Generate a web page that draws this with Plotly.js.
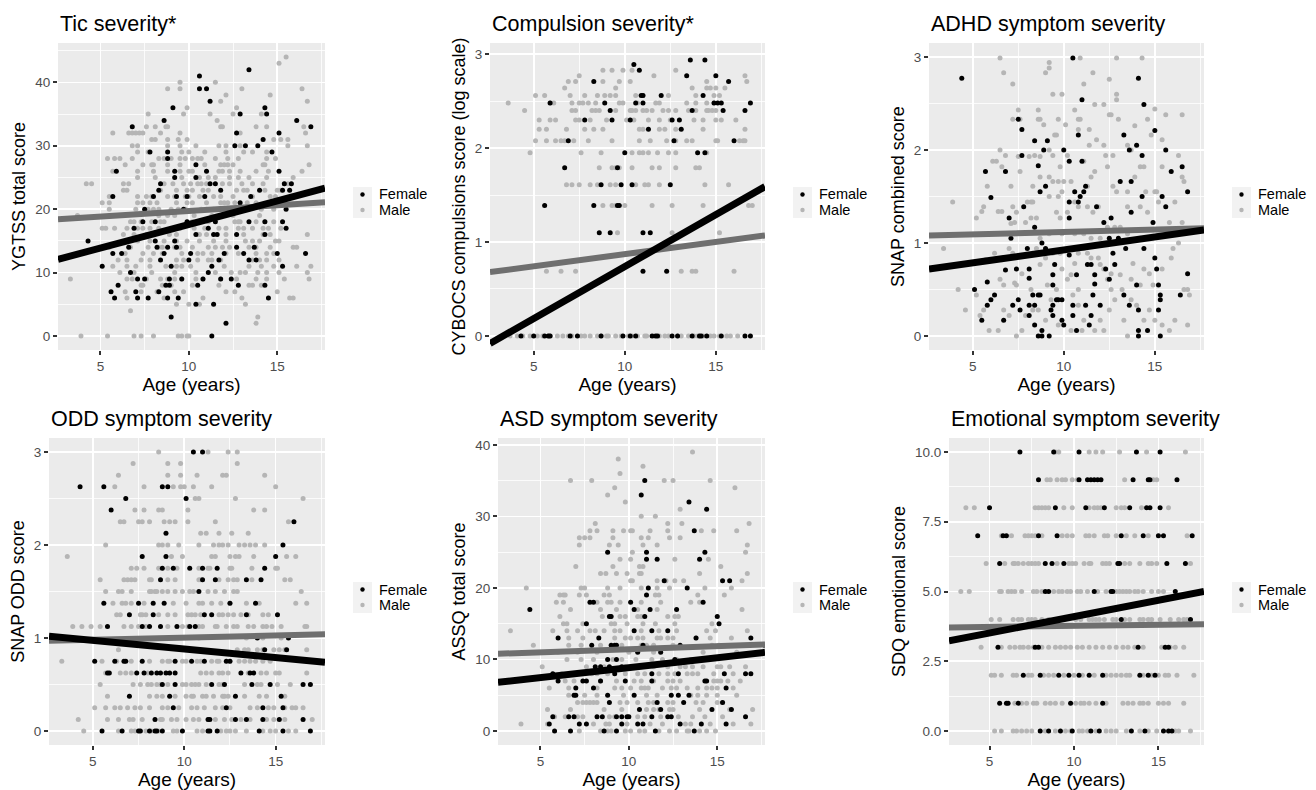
<!DOCTYPE html>
<html><head><meta charset="utf-8">
<script src="https://cdn.plot.ly/plotly-3.0.1.min.js"></script>
<style>html,body{margin:0;padding:0;background:#fff}#chart{width:1316px;height:790px}</style>
</head><body><div id="chart"></div>
<script>
// ---------------- DATA ----------------
// Rows: [score, [ages...]]; Pairs: [age, score]
const groups = ["Female", "Male"];
const panelTitles = ["Tic severity*", "Compulsion severity*", "ADHD symptom severity",
  "ODD symptom severity", "ASD symptom severity", "Emotional symptom severity"];
const yTitles = ["YGTSS total score", "CYBOCS compulsions score (log scale)", "SNAP combined score",
  "SNAP ODD score", "ASSQ total score", "SDQ emotional score"];
const xTitle = "Age (years)";
const xTicks = [5, 10, 15];

// fitted lines: score at age 2.6 and at age 17.7
const fitAges = [2.6, 17.7];
const ticFitFemale = [12.1, 23.3], ticFitMale = [18.4, 21.1];
const compFitFemale = [-0.08, 1.59], compFitMale = [0.68, 1.07];
const adhdFitFemale = [0.72, 1.14], adhdFitMale = [1.08, 1.16];
const oddFitFemale = [1.02, 0.74], oddFitMale = [0.97, 1.04];
const asdFitFemale = [6.8, 11.0], asdFitMale = [10.8, 12.1];
const emoFitFemale = [3.23, 5.0], emoFitMale = [3.71, 3.83];

// ---- Tic severity ----
const ticFemale = [[4.3,15],[5.1,11],[5.6,7],[5.8,6],[5.7,13],[5.6,19],[5.7,22],[5.9,26],[6.0,8],[6.2,13],[6.6,14],[6.9,17],[6.8,33],[6.7,10],[7.0,7],[7.1,9],[7.1,6],[7.5,9],[7.5,20],[7.4,18],[7.7,6],[7.8,29],[8.0,22],[8.1,18],[8.1,15],[8.3,23],[8.4,24],[8.2,14],[8.3,7],[8.4,12],[8.6,13],[8.6,34],[8.7,8],[8.8,6],[8.8,29],[8.8,28],[8.8,14],[8.9,9],[8.9,8],[9.0,11],[9.0,3],[9.1,36],[9.2,26],[9.2,25],[9.3,22],[9.2,15],[9.3,14],[9.4,6],[9.6,9],[9.7,20],[9.9,22],[9.9,18],[10.0,12],[10.1,13],[10.4,27],[10.4,16],[10.4,5],[10.4,25],[10.5,8],[10.6,41],[10.6,39],[10.8,9],[10.9,22],[11.0,39],[11.0,26],[11.1,10],[11.1,17],[11.2,24],[11.2,37],[11.3,11],[11.3,0],[11.4,5],[11.4,16],[11.5,18],[11.5,24],[11.6,16],[11.7,12],[11.8,9],[11.8,23],[12.0,13],[12.1,2],[12.4,9],[12.6,30],[12.7,32],[12.7,16],[12.7,14],[12.8,8],[12.9,35],[12.9,21],[13.1,13],[13.2,30],[13.4,12],[13.4,42],[13.5,22],[13.4,18],[13.7,14],[13.8,12],[13.9,30],[14.0,23],[14.2,31],[14.3,16],[14.3,18],[14.3,8],[14.3,36],[14.4,35],[14.5,6],[14.7,29],[15.0,13],[15.1,32],[15.1,26],[15.3,18],[15.3,11],[15.3,23],[15.4,24],[15.5,20],[15.5,17],[15.7,23],[15.8,24],[16.1,34],[16.6,13],[16.9,33]];
const ticMale = [
[44,[15.5]],[43,[15.1]],[40,[9.5,11.5]],[39,[8.8,9.5,13.0,16.4]],[38,[12.1,14.6]],[37,[11.8,16.7]],[36,[9.9,12.7]],
[35,[7.7,9.7,11.2,12.5,14.1]],[34,[11.6]],[33,[7.6,8.1,8.7,8.8,11.8,11.9,13.8,14.4,16.5]],
[32,[5.7,6.6,6.8,7.0,7.2,7.4,8.4,9.5,12.9,16.6]],[31,[7.9,8.1,8.8,9.4,9.9,14.8,15.2,15.6]],
[30,[6.8,7.1,8.8,9.5,10.4,11.7,12.1,12.9,15.6,16.7]],[29,[7.1,7.7,9.6,10.0,10.9,12.1,13.1,13.6,14.4]],
[28,[5.4,5.8,6.1,6.8,8.3,8.6,9.0,9.5,9.8,10.2,10.5,10.7,11.5,12.2,12.8,14.4,14.9]],
[27,[6.4,7.4,7.9,8.0,8.8,9.5,10.9,11.8,12.0,12.2,12.5,14.2,14.3,16.8]],
[26,[5.7,7.1,8.0,8.8,9.5,10.0,10.2,11.7,11.9,12.3,12.9,13.8,14.5,16.4]],
[25,[7.1,8.1,9.6,10.6,11.1,11.5,12.3,12.8,13.4,14.4,15.9]],
[24,[4.2,4.5,6.3,6.6,8.6,9.1,9.7,10.1,10.5,10.7,11.0,11.9,12.3,13.0,13.6,14.2,15.4,15.6]],
[23,[6.3,6.5,8.4,9.3,9.9,10.2,10.8,11.1,12.7,13.1,13.3,14.3,15.0,15.2]],
[22,[5.5,7.1,7.6,7.9,8.8,9.2,9.8,10.0,10.6,11.4,11.8,12.5,13.6,14.6,14.9]],
[21,[5.1,5.5,7.1,7.4,7.8,8.2,9.3,9.9,10.2,11.0,11.8,12.0,12.2,12.6,13.3,13.8,14.6,15.3]],
[20,[5.5,7.0,7.7,8.0,8.3,9.0,9.4,9.8,10.7,11.0,11.4,12.2,13.1,13.4,14.1,14.8]],
[19,[3.7,5.5,8.3,8.8,9.2,10.3,11.3,12.5,14.0]],
[18,[6.7,6.9,7.3,7.9,8.4,8.6,9.9,10.2,10.7,11.1,12.6,12.8,12.9,13.8,14.3,14.8]],
[17,[5.1,5.3,5.8,6.5,7.1,7.4,7.8,8.3,9.5,10.3,10.9,11.7,12.1,12.8,13.1,13.6,14.2,14.5,15.2]],
[16,[6.3,6.9,7.6,8.0,8.9,9.3,10.5,10.6,11.0,12.1,13.1,14.2,14.6,16.7]],
[15,[7.1,7.8,8.6,9.3,9.9,10.6,11.4,12.1,13.2,13.6,14.0,14.9,15.1]],
[14,[5.5,6.7,7.7,8.3,8.5,9.2,9.5,10.2,11.1,11.5,11.9,12.3,13.4,13.8,14.6,15.9,16.1]],
[13,[6.4,7.4,8.0,8.5,9.6,10.5,10.8,11.3,12.1,12.8,13.8,14.4,14.8]],
[12,[6.0,6.5,7.3,7.8,9.3,9.7,10.5,11.1,11.3,11.8,13.6,14.0,14.4,15.1]],
[11,[5.7,6.5,7.0,7.8,8.7,9.3,9.6,10.1,12.0,13.4,14.1,14.8,16.1,16.9]],
[10,[6.1,6.9,7.9,9.2,10.4,11.5,12.4,12.9,13.2,13.9,14.4,15.1,16.7]],
[9,[3.3,6.5,6.8,7.6,8.4,8.8,9.2,9.6,10.4,10.8,11.8,12.7,13.8,14.4,15.4,16.8]],
[8,[7.3,7.4,8.5,9.0,10.2,11.7,13.4,13.6,14.1]],[7,[6.4,7.3,8.2,9.2,9.7,12.1,12.6,15.0]],
[6,[6.5,8.6,10.8,13.0,15.7,15.9]],[5,[9.3,10.0,10.6,13.2]],[4,[6.7]],[3,[13.9]],[2,[13.8]],
[0,[3.9,5.4,6.9,7.3,8.0,9.4,9.6,9.9,10.0]]];

// ---- Compulsion severity (log scale values) ----
const compFemale = [
[2.94,[13.6,14.4]],[2.89,[10.5]],[2.83,[10.8]],[2.77,[13.4,15.0]],[2.71,[8.3,15.7]],
[2.56,[10.9,11.0,12.0,14.3]],[2.48,[5.9,8.9,10.6,11.0,14.9,15.1,15.3,16.9]],[2.40,[9.2,13.7,15.4,16.6]],
[2.30,[7.8,9.3,10.3,12.6,13.0]],[2.20,[11.3,13.1]],[2.08,[6.9,12.7,16.0]],[1.95,[10.0,14.0,14.4]],
[1.79,[6.7,9.6]],[1.61,[8.7,9.8,10.4,12.5]],[1.39,[5.6,8.3,9.6,9.7]],[1.10,[8.6,9.2,11.0,11.4]],
[0.69,[11.0,12.3]],
[0,[4.3,5.0,5.6,5.8,5.9,7.0,7.4,8.7,9.9,10.3,10.6,11.5,11.7,11.8,12.6,12.9,13.7,14.1,14.2,14.5,15.3,16.6,16.9]]];
const compMale = [
[2.83,[8.8,9.3,9.9,10.4,12.8]],[2.77,[7.5,11.6,16.6]],[2.71,[6.9,7.3,8.8,9.7,10.3,14.5,16.7]],
[2.64,[6.7,9.5,13.7,14.5,14.7,15.0,15.5]],
[2.56,[5.1,5.6,7.0,7.8,8.5,8.9,9.2,9.5,10.6,11.0,12.4,13.9,14.9,15.2]],
[2.48,[3.6,5.9,6.1,7.1,7.5,7.7,8.0,8.4,9.7,9.9,10.7,11.7,11.9,13.4,13.9,14.5,14.9]],
[2.40,[4.5,7.1,7.3,8.2,8.4,8.6,9.5,10.3,10.4,10.6,11.0,11.2,11.5,12.1,12.4,12.8,13.5,13.9,14.5,14.6,14.8,15.0]],
[2.30,[5.3,5.9,6.2,7.3,7.5,8.1,9.0,10.1,10.5,11.3,11.9,12.5,13.8,14.3,15.0,15.3,16.1]],
[2.20,[5.3,5.7,6.8,7.8,8.3,8.8,10.8,11.0,11.9,12.2,12.8,14.3,16.6]],
[2.08,[5.1,5.7,6.2,6.5,6.7,7.2,8.0,9.3,10.8,11.4,12.3,12.8,13.4,13.7,15.0,15.1,16.3,16.5,16.6]],
[1.95,[4.8,7.6,8.7,10.4,10.8,11.0,11.3,11.8,12.4,12.8,14.5]],
[1.79,[8.6,9.3,9.5,9.7,10.4,11.5,11.9,12.8,13.9,14.1]],
[1.61,[6.8,7.1,7.5,8.1,8.5,9.2,9.5,10.6,11.1,11.3,11.9,14.4,15.7]],
[1.39,[8.8,9.3,9.5,10.0,11.5,12.6,14.3,16.8,17.0]],[1.10,[9.6,12.6,15.2]],
[0.69,[5.7,6.5,7.3,13.1,13.7,13.9,16.0]],
[0,[3.7,4.1,4.4,4.8,5.2,5.5,5.8,5.9,6.3,6.6,6.9,7.1,7.6,7.8,8.1,8.5,8.7,9.0,9.1,9.5,9.8,10.2,10.4,10.7,11.1,11.2,11.6,11.9,12.2,12.4,12.9,13.1,13.5,13.8,14.0,14.3,14.7,14.9,15.2,15.6,15.8,16.2]]];

// ---- ADHD symptom severity ----
const adhdFemale = [[4.4,2.77],[5.1,0.50],[5.5,0.17],[5.7,1.77],[5.8,0.58],[5.8,0.33],[6.0,1.49],[6.0,0.39],[6.2,0.44],[6.7,0.17],[6.8,1.77],[7.0,1.27],[6.8,0.71],[7.1,1.05],[7.2,0.33],[7.5,2.33],[7.5,0.39],[7.4,0.72],[7.6,0.28],[7.7,2.22],[7.7,1.94],[7.8,1.39],[8.0,0.94],[8.1,0.62],[8.1,0.72],[8.1,0.33],[8.1,0.22],[8.3,0.44],[8.4,2.10],[8.4,0.33],[8.4,0.12],[8.4,1.17],[8.6,0.44],[8.6,1.83],[8.6,0],[8.7,1.55],[8.7,0.44],[8.8,1.0],[8.8,0.06],[8.8,0],[8.9,2.0],[9.0,0.94],[9.0,1.61],[9.1,2.10],[9.2,0],[9.3,0.28],[9.4,0.66],[9.4,0.55],[9.4,0.22],[9.4,0.33],[9.5,0.77],[9.6,0.39],[9.7,0.39],[9.9,0.39],[9.9,0.17],[10.0,2.0],[10.0,0.12],[10.3,1.88],[10.3,1.44],[10.3,1.27],[10.3,0.87],[10.5,2.99],[10.5,0.33],[10.5,0.22],[10.7,0.06],[10.7,0.66],[10.6,1.55],[10.8,1.44],[10.8,2.16],[10.9,1.50],[11.0,1.88],[11.0,2.54],[11.1,1.55],[11.2,1.61],[11.2,0.33],[11.3,0.77],[11.4,0.12],[11.5,0.22],[11.5,0.77],[11.6,0.44],[11.7,0.56],[11.7,0.66],[11.8,1.39],[12.0,0.33],[12.2,1.22],[12.3,0.72],[12.5,0.61],[12.5,1.05],[12.6,1.27],[12.7,0.89],[12.8,0.77],[13.0,1.05],[13.1,1.66],[13.3,0.44],[13.3,2.16],[13.4,0.94],[13.6,0.33],[13.6,2.0],[13.7,1.66],[13.7,1.33],[14.0,2.05],[14.0,0.55],[14.1,0.28],[14.1,2.77],[14.1,0.06],[14.1,0],[14.3,1.50],[14.3,1.94],[14.4,2.49],[14.4,0.94],[14.6,0.06],[14.9,1.22],[15.0,2.21],[15.0,0.84],[15.1,0.72],[15.2,0.28],[15.2,0.55],[15.3,0],[15.3,0.44],[15.3,0.39],[15.4,1.50],[15.6,1.39],[15.6,2.0],[15.9,1.77],[16.4,0.44],[16.5,1.82],[16.8,1.55],[16.8,0.67]];
const adhdMale = [[6.5,2.99],[6.7,2.83],[7.2,2.71],[9.2,2.94],[9.2,2.88],[9.0,2.83],[9.4,2.60],[9.9,2.60],[10.9,2.99],[11.1,2.71],[11.6,2.83],[12.5,2.76],[12.9,2.99],[12.9,2.54],[12.9,2.60],[14.3,2.99],[11.7,2.49],[12.2,2.49],[15.0,2.44],[15.6,2.38],[16.5,2.38],[7.5,2.43],[7.2,2.33],[7.6,2.33],[8.6,2.43],[8.6,2.33],[8.7,2.33],[8.9,2.27],[9.7,2.33],[10.1,2.27],[10.6,2.43],[10.8,2.33],[10.9,2.33],[10.8,2.22],[11.4,2.22],[12.5,2.38],[12.6,2.38],[13.0,2.33],[13.9,2.26],[14.6,2.33],[14.8,2.16],[15.4,2.11],[9.5,2.16],[9.6,2.16],
[6.5,2.0],[6.1,1.88],[6.3,1.88],[6.6,1.82],[6.8,1.94],[7.6,1.77],[7.5,1.93],[8.1,1.93],[8.4,1.94],[8.7,1.93],[9.2,2.0],[9.4,1.94],[9.8,1.82],[10.2,1.94],[11.1,1.88],[11.4,2.05],[11.8,2.11],[12.2,2.05],[12.3,1.94],[12.7,1.94],[12.4,1.82],[13.5,2.05],[13.7,2.0],[14.2,1.82],[14.4,1.82],[15.4,1.82],[16.3,1.94],[9.2,1.71],[9.4,1.66],[9.7,1.66],[10.0,1.66],[9.9,1.55],[10.4,1.66],[8.3,1.61],[8.7,1.71],[8.0,1.44],[8.2,1.44],[8.3,1.44],[9.2,1.50],[9.7,1.50],[10.6,1.44],[11.3,1.61],[11.5,1.71],[11.7,1.77],[12.7,1.61],[12.9,1.55],[13.5,1.55],[13.9,1.71],[14.5,1.55],[15.0,1.55],[15.1,1.55],[15.2,1.44],[16.5,1.71],[16.6,1.66],[16.1,1.44],[5.8,1.61],[7.1,1.61],[3.9,1.44],
[5.5,1.34],[5.6,1.39],[5.2,1.27],[6.4,1.34],[6.6,1.34],[7.2,1.39],[7.4,1.33],[7.1,1.21],[7.3,1.22],[7.9,1.22],[8.2,1.27],[8.5,1.27],[9.6,1.33],[9.8,1.27],[10.2,1.33],[10.8,1.39],[11.3,1.39],[11.6,1.33],[11.9,1.39],[12.4,1.17],[12.8,1.17],[13.1,1.17],[13.5,1.39],[14.2,1.39],[14.6,1.33],[15.8,1.22],[16.5,1.22],[16.3,1.0],[16.0,0.94],[3.4,0.94],[8.7,1.05],[9.2,1.1],[9.9,1.1],[10.6,1.1],[11.1,1.1],[11.5,1.05],[12.0,1.05],[13.5,1.1],[14.2,1.05],
[5.7,0.82],[6.2,0.89],[6.6,0.82],[7.0,0.94],[7.2,0.89],[7.3,0.57],[7.4,0.55],[7.7,0.67],[8.3,0.89],[8.5,0.94],[8.7,0.77],[9.0,0.84],[9.4,0.89],[9.8,0.89],[9.9,0.72],[10.2,0.61],[10.4,0.66],[10.6,0.78],[10.8,0.89],[11.1,0.94],[11.3,0.89],[11.5,0.84],[11.9,0.84],[12.0,0.77],[12.2,0.72],[12.4,0.61],[12.6,0.67],[13.1,0.66],[13.7,0.61],[13.8,0.78],[14.2,0.55],[14.4,0.72],[14.7,0.67],[15.4,0.72],[15.9,0.84],[4.2,0.50],[5.2,0.44],[6.5,0.61],[6.7,0.55],[8.2,0.50],[9.1,0.55],[9.6,0.50],[10.8,0.50],[12.6,0.50],[13.2,0.50],[14.9,0.55],[16.6,0.50],
[4.6,0.28],[5.4,0.22],[5.6,0.28],[5.9,0.06],[6.4,0.06],[6.7,0.28],[7.0,0.22],[7.4,0],[7.7,0.06],[7.9,0.22],[8.3,0.28],[8.6,0.28],[9.0,0.17],[9.3,0.39],[9.7,0.12],[10.4,0.06],[10.5,0.44],[10.8,0.33],[11.1,0.17],[11.0,0.06],[11.7,0.06],[12.0,0.17],[12.2,0.06],[12.5,0.28],[12.8,0.39],[13.3,0.17],[13.5,0],[13.7,0.39],[14.0,0.33],[14.4,0.17],[14.7,0.28],[15.0,0.17],[15.4,0.12],[15.8,0.06],[16.1,0.17],[16.8,0.12],[16.9,0.44],[16.8,0.50]];

// ---- ODD symptom severity ----
const oddFemale = [
[3.0,[10.5,11.0]],[2.625,[4.3,5.6,8.8,9.1]],[2.5,[6.8,10.1]],[2.375,[6.0]],[2.25,[16.0]],[2.125,[9.0]],[2.0,[15.4]],
[1.875,[7.7,9.0,15.0]],[1.75,[8.8,9.4,10.3,11.0,11.8,14.4]],[1.625,[8.7,11.0,11.7,13.4,14.2]],[1.5,[10.8]],
[1.375,[5.6,7.5,8.3,8.9,12.5,13.9]],[1.25,[7.0,8.3,11.1,11.5,13.4,15.1]],[1.125,[5.8,7.7,8.1,8.7,9.6,10.3,10.6]],
[1.0,[14.0,15.7]],[0.875,[14.4,15.6]],[0.75,[5.1,6.2,6.7,6.8,7.7,9.5,10.4,11.1,12.3,12.5]],
[0.625,[5.8,5.9,7.4,7.8,8.2,8.5,8.7,9.0,9.2,9.5,13.1,13.6,13.8]],[0.5,[8.8,9.5,11.5,12.2,13.7,14.7,16.5,16.9]],
[0.375,[7.0,9.2,12.8,15.3]],[0.25,[9.4,12.3,14.3,15.4]],[0.125,[8.4,11.3,11.4,12.8,13.4,14.3,15.2,16.5]],
[0,[5.5,6.6,7.5,7.6,8.1,8.4,8.5,8.8,9.9,11.3,11.4,11.8,14.1,15.4,16.9]]];
const oddMale = [
[3.0,[8.6,11.3,12.4,12.9]],[2.875,[7.2,9.1,9.8,12.9]],[2.75,[6.4,9.1,9.8,10.7,12.1,12.3,14.4]],
[2.625,[6.2,7.8,9.4,9.8,10.0,10.5,11.5,15.0]],[2.5,[10.6,10.8,12.8,16.5]],[2.375,[7.3,7.8,8.6,8.8,10.2,13.8,14.4]],
[2.25,[6.5,6.7,7.5,7.7,8.1,8.9,9.2,9.5,10.2,11.7,15.7]],[2.125,[10.9,11.2,11.9,12.6,13.5]],
[2.0,[5.7,8.6,8.8,9.1,9.7,10.8,11.6,11.9,12.1,12.4,13.0,13.3,13.6,13.9,14.4]],
[1.875,[3.6,9.3,9.9,11.5,11.7,12.5,12.8,13.0,13.8,15.6,16.1]],
[1.75,[7.1,7.4,7.8,8.6,9.1,9.6,10.8,11.3,11.4,12.5,12.6,13.7,15.0,15.1]],
[1.625,[5.4,6.7,6.9,7.1,7.3,8.1,8.2,9.1,9.5,10.8,10.9,11.9,12.4,12.7,12.9,13.7,15.5,15.8]],
[1.5,[5.7,6.4,6.6,7.1,8.1,8.2,8.4,8.5,8.8,9.1,9.5,9.9,10.3,10.5,11.3,11.7,12.2,12.7,12.9,16.4]],
[1.375,[6.1,6.6,6.8,7.1,7.8,9.4,10.1,10.8,11.0,11.5,12.0,12.5,13.4,14.1,16.1,16.7]],
[1.25,[6.3,6.5,7.6,7.7,7.9,8.6,9.1,9.5,10.2,10.4,10.6,10.9,11.9,12.1,12.4,12.7,13.1,13.5,14.3,14.6]],
[1.125,[3.9,4.4,4.9,5.4,6.7,7.1,7.5,7.9,9.1,9.9,10.2,10.8,11.0,11.7,11.8,12.3,12.7,12.9,13.5,13.8,14.3,14.5,14.8,15.3,16.6,16.7]],
[1.0,[10.8,13.4,14.3,15.3]],
[0.875,[6.4,10.8,12.9,13.3,13.5,14.0,14.3,14.9,15.2,15.5,16.7]],
[0.75,[3.3,5.5,6.3,7.1,8.1,8.8,9.1,9.2,9.9,10.1,10.7,10.9,11.5,11.8,11.9,12.5,13.0,13.3,13.6,13.9,14.3,14.7]],
[0.625,[5.7,6.5,6.8,7.1,8.0,10.9,11.2,11.5,11.9,12.1,12.4,13.5,14.2,14.5,15.0,15.2,16.7]],
[0.5,[5.4,7.2,7.6,8.0,8.2,8.5,8.7,9.1,9.9,10.1,10.4,10.6,10.8,11.2,11.9,12.1,13.3,14.0,14.2,15.1,15.8]],
[0.375,[5.8,8.1,8.5,8.8,9.5,10.1,10.4,10.5,11.0,11.2,11.6,12.1,12.2,12.4,13.3,14.1,14.5,15.5]],
[0.25,[5.1,5.7,6.2,6.5,6.9,7.3,7.6,8.1,8.8,9.1,9.7,10.4,10.7,11.1,11.7,12.1,12.5,13.6,14.0,14.6,14.9,15.5,15.9,16.1,16.5]],
[0.125,[4.2,5.8,6.4,7.0,7.2,7.7,8.7,8.8,9.3,9.6,10.1,10.5,10.8,11.7,12.2,12.6,13.1,13.6,14.5,14.9,15.5,17.0]],
[0,[4.5,6.4,7.1,7.3,7.9,8.2,8.6,9.4,9.6,10.7,11.0,12.0,12.3,12.5,12.8,13.4,14.3,14.7,15.0,15.7,16.1]]];

// ---- ASD symptom severity ----
const asdFemale = [
[35,[10.9]],[33,[10.7]],[32,[13.4]],[31,[14.4]],[28,[13.7]],[25,[8.8,11.0,14.3]],[24,[11.0,11.6,14.0]],
[21,[12.0,15.3,15.7]],[20,[11.1,13.3]],[19,[11.0]],[18,[7.8,8.0,10.1,14.2]],[17,[4.4,10.3,11.2,12.7]],
[16,[8.9,9.0,10.9,15.0]],[15,[7.6,15.1]],[14,[10.3,11.3,12.2]],[13,[6.0,8.3,13.8,16.9]],
[12,[7.9,9.0,9.2,9.3,10.8,12.9]],[11,[10.5,11.8]],[10,[8.8,9.3,12.6]],[9,[8.1,8.4,8.9,9.6]],
[8,[5.7,9.2,11.3,12.8,15.4,16.6,16.9]],[7,[6.0,7.4,7.6,8.4,9.8,11.3,14.3,14.4]],[6,[7.0,8.0,15.5]],
[5,[6.9,7.0,8.8,10.3,12.4,12.8,13.4]],[4,[8.9,11.6,13.1,15.3]],[3,[10.6,11.8,14.7,15.8]],
[2,[5.7,6.6,6.9,8.2,8.5,9.3,9.6,9.9,10.0,11.3,12.2,12.4,16.6]],[1,[5.5,7.2,7.6,9.6,10.5,10.8,12.9,14.1,15.5]],
[0,[5.8,6.7,8.6,9.3,11.5,13.7]]];
const asdMale = [
[39,[13.6]],[38,[9.4]],[37,[10.8]],[36,[9.5]],[35,[6.7,7.9,12.0,12.5,14.6]],[34,[9.2,16.0]],[33,[8.8]],[32,[9.8]],
[31,[12.9]],[30,[10.7,11.5]],[29,[8.1,12.2,13.0,16.8]],[28,[7.8,8.2,9.1,9.7,10.1,10.2,11.2,12.2,14.1,14.8,16.1]],
[27,[7.2,7.5,7.8,9.1,10.7,11.1,12.3,12.9]],[26,[7.2,8.9,9.4,10.8,11.6,16.7]],[25,[10.2,16.6]],
[24,[9.5,10.1,12.6,14.5]],[23,[7.0,9.1,10.6,10.8,15.2]],[22,[8.4,8.7,9.3,9.9,10.6,10.7,14.0,16.7]],
[21,[10.1,10.2,11.6,12.1,12.6,13.1,16.4]],[20,[4.2,7.3,7.5,8.8,9.5,10.7,11.6,12.3,14.3,15.8]],
[19,[6.1,6.3,6.4,7.2,7.6,8.6,8.9,11.5,11.7,13.9,15.4]],[18,[5.9,6.3,8.2,8.8,9.0,9.5,10.7,11.8,13.5,14.0]],
[17,[6.7,8.4,9.3,10.5,11.6,16.4]],[16,[6.1,8.5,9.5,9.8,10.5,10.7,12.2,12.6,12.8]],
[15,[6.3,6.5,7.4,9.0,9.2,9.9,10.8,11.5,12.6,14.7]],
[14,[3.3,5.7,6.5,7.1,7.8,8.1,8.6,9.2,9.5,10.7,11.7,12.7,14.4,14.9,16.7]],
[13,[6.6,7.4,9.2,9.8,10.1,10.5,10.8,11.6,11.8,12.2,12.5,13.8,14.6,15.8]],
[12,[4.6,6.6,7.3,8.4,9.6,10.7,11.0,11.4,12.5,14.7,15.1]],[11,[6.0,7.1,8.2,10.0,11.4,14.2,16.1]],
[10,[6.5,7.3,8.0,9.1,9.6,10.4,11.3,11.9,12.7,13.5]],
[9,[5.1,7.6,8.6,9.8,10.7,11.4,12.2,12.9,13.2,13.6,14.2,15.0,15.2,15.7,16.6]],
[8,[6.2,6.8,7.9,8.2,8.8,9.8,10.5,10.9,11.7,12.2,12.6,13.3,13.6,13.9,14.8,15.9]],
[7,[6.4,6.9,8.4,9.3,10.3,10.7,11.4,12.2,12.5,12.9,14.8,15.0,15.2,15.6,16.3]],
[6,[5.5,6.6,8.2,9.2,9.6,10.1,10.7,10.9,11.1,11.9,12.4,12.7,13.3,13.9,14.4,14.7,15.0,15.9]],
[5,[6.6,7.5,8.2,9.7,11.0,11.6,13.5,13.9,14.4,15.0,16.1]],
[4,[7.1,7.4,7.6,7.8,8.0,8.2,9.5,9.9,10.5,11.1,11.4,12.2,12.5,13.8,14.2,15.0,15.3]],
[3,[5.4,6.7,8.6,9.6,11.0,11.4,11.7,12.3,12.5,14.0,15.7,17.0]],
[2,[5.8,6.4,7.1,7.4,8.9,9.2,10.5,10.9,11.8,12.8,13.6,14.3,15.3]],
[1,[3.9,5.4,8.0,8.7,8.9,9.9,11.2,11.9,13.2,13.5,14.6,15.9,16.9]],
[0,[7.2,8.4,8.8,9.0,9.8,10.1,10.6,10.9,11.7,12.3,12.7,13.3,13.4,14.0,14.4,14.9]]];

// ---- Emotional symptom severity ----
const emoFemale = [
[10,[6.8,8.8,10.3,13.7,15.1]],[9,[7.9,10.3,10.8,11.0,11.2,11.4,11.6,13.5,14.4,14.5,16.1]],
[8,[5.0,8.9,10.7,11.8,13.3,14.3,14.5,15.1]],[7,[4.3,5.8,6.0,7.9,9.0,12.8,14.1,15.0,15.3,17.0]],
[6,[5.6,8.3,8.7,9.4,12.6,12.7,15.5,16.6]],[5,[8.3,8.5,11.2,12.2,12.3,16.0]],[4,[12.8,16.9]],
[3,[5.5,7.7,7.9,13.8,15.4,15.6]],[2,[7.0,8.0,9.1,9.7,10.3,10.9,11.7,13.9,14.4,14.8]],
[1,[5.6,6.0,6.1,6.7,9.8,11.7]],[0,[8.0,8.5,9.2,9.9,11.0,11.5,13.4,14.2,15.3,15.6,15.8]]];
const emoMale = [
[10,[8.9,9.1,10.9,11.3,11.7,12.7,14.3,16.6]],
[9,[8.4,8.6,9.0,9.3,9.5,9.9,10.2,13.0,14.7,14.9]],
[8,[3.6,4.1,7.7,7.9,8.1,8.3,8.5,9.4,9.9,10.9,11.2,11.4,11.6,12.5,12.8,13.0,14.0,15.6]],
[7,[5.7,6.3,7.1,7.3,7.5,7.7,8.1,9.3,9.6,9.9,10.7,10.9,11.2,11.8,12.0,12.5,13.1,13.6,14.4,16.7]],
[6,[4.8,5.9,6.4,6.5,6.7,7.0,7.3,7.5,7.7,7.9,9.0,9.7,9.9,10.1,10.6,10.9,11.0,11.7,11.9,12.1,13.0,13.3,13.9,14.4,14.6,14.9,16.9]],
[5,[3.3,3.8,5.6,5.7,6.1,6.3,6.5,6.9,7.6,7.8,8.1,8.8,9.1,9.3,9.6,9.8,10.2,10.4,10.8,11.4,11.9,12.5,12.7,12.9,13.1,13.3,13.6,13.8,14.1,14.6,15.0,15.3]],
[4,[5.1,5.6,6.4,6.7,6.9,7.3,7.5,7.7,8.1,8.5,8.9,9.3,10.1,10.4,10.9,11.1,11.3,11.5,11.8,12.3,12.5,13.0,13.3,13.9,14.1,14.4,14.6,15.1,15.7,16.2,16.5,16.7]],
[3,[4.5,5.7,6.2,6.5,6.8,7.0,7.3,7.6,8.1,8.5,8.9,9.2,9.5,9.8,10.2,10.5,10.9,11.3,11.7,12.1,12.5,12.9,13.2,13.6,14.1,15.2,15.7,16.0,16.5]],
[2,[5.1,5.3,5.7,6.4,6.6,7.3,7.5,8.2,8.5,8.8,9.4,10.0,10.5,11.2,11.9,12.2,12.5,12.8,13.1,13.3,14.1,14.6,15.0,15.4,15.6,16.1,17.1]],
[1,[6.5,6.9,7.2,7.6,7.8,8.3,8.6,8.9,9.3,10.1,10.4,10.6,10.9,11.3,11.9,12.9,13.2,13.5,13.9,14.1,14.4,15.0,15.3,15.6,16.5]],
[0,[5.3,5.7,6.4,6.6,6.9,7.2,7.5,8.3,8.9,9.5,9.8,10.3,10.5,10.8,11.3,11.9,12.2,12.5,13.1,13.9,14.4,14.9,16.0,16.2,16.9]]];

// ---------------- helpers ----------------
function fromRows(r){const x=[],y=[];r.forEach(([v,xs])=>xs.forEach(a=>{x.push(a);y.push(v);}));return {x,y};}
function fromPairs(p){return {x:p.map(d=>d[0]),y:p.map(d=>d[1])};}

const panels = [
 {female:fromPairs(ticFemale), male:fromRows(ticMale), fitF:ticFitFemale, fitM:ticFitMale,
  yrange:[-2.2,46.2], yt:[0,10,20,30,40], ytt:["0","10","20","30","40"], ym:[5,15,25,35,45]},
 {female:fromRows(compFemale), male:fromRows(compMale), fitF:compFitFemale, fitM:compFitMale,
  yrange:[-0.15,3.12], yt:[0,1,2,3], ytt:["0","1","2","3"], ym:[0.5,1.5,2.5]},
 {female:fromPairs(adhdFemale), male:fromPairs(adhdMale), fitF:adhdFitFemale, fitM:adhdFitMale,
  yrange:[-0.15,3.15], yt:[0,1,2,3], ytt:["0","1","2","3"], ym:[0.5,1.5,2.5]},
 {female:fromRows(oddFemale), male:fromRows(oddMale), fitF:oddFitFemale, fitM:oddFitMale,
  yrange:[-0.15,3.15], yt:[0,1,2,3], ytt:["0","1","2","3"], ym:[0.5,1.5,2.5]},
 {female:fromRows(asdFemale), male:fromRows(asdMale), fitF:asdFitFemale, fitM:asdFitMale,
  yrange:[-1.95,40.95], yt:[0,10,20,30,40], ytt:["0","10","20","30","40"], ym:[5,15,25,35]},
 {female:fromRows(emoFemale), male:fromRows(emoMale), fitF:emoFitFemale, fitM:emoFitMale,
  yrange:[-0.5,10.5], yt:[0,2.5,5,7.5,10], ytt:["0.0","2.5","5.0","7.5","10.0"], ym:[1.25,3.75,6.25,8.75]}
];

// ---------------- layout geometry (pixels) ----------------
const W = 1316, H = 790;
// plot panel boxes: [left, top, right, bottom]
const boxes = [[58,43,325,350],[490,43,765,350],[929,43,1204,350],
               [49,438,325,745],[498,438,765,745],[949,438,1204,745]];
const titleY = [24,24,24,419,419,419];
const legendPos = [[353,187],[793,187],[1232,187],[353,582],[793,582],[1232,582]];
const FONT = "Liberation Sans, Arial, Helvetica, sans-serif";
const femaleColor = "#000000", maleColor = "#b5b5b5", maleLine = "#6f6f6f";

const traces = [];
const layout = {
  width: W, height: H, margin:{l:0,r:0,t:0,b:0}, showlegend:false,
  paper_bgcolor:"#ffffff", plot_bgcolor:"#ebebeb",
  font:{family:FONT, color:"#000"}, annotations:[], shapes:[]
};

panels.forEach((p,i)=>{
  const n = i===0 ? "" : String(i+1);
  const xa = "x"+n, ya = "y"+n;
  const b = boxes[i];
  traces.push({type:"scatter", mode:"markers", x:p.male.x, y:p.male.y, xaxis:xa, yaxis:ya, name:groups[1],
    marker:{color:maleColor, size:5}, hoverinfo:"skip"});
  traces.push({type:"scatter", mode:"markers", x:p.female.x, y:p.female.y, xaxis:xa, yaxis:ya, name:groups[0],
    marker:{color:femaleColor, size:5}, hoverinfo:"skip"});
  traces.push({type:"scatter", mode:"lines", x:fitAges, y:p.fitM, xaxis:xa, yaxis:ya, name:groups[1]+" fit",
    line:{color:maleLine, width:6}, hoverinfo:"skip"});
  traces.push({type:"scatter", mode:"lines", x:fitAges, y:p.fitF, xaxis:xa, yaxis:ya, name:groups[0]+" fit",
    line:{color:femaleColor, width:7}, hoverinfo:"skip"});

  const common = {showgrid:true, gridcolor:"#ffffff", gridwidth:1.6, zeroline:false, showline:false,
    ticks:"outside", ticklen:4, tickwidth:2, tickcolor:"#333333",
    tickfont:{family:FONT, size:13.5, color:"#4d4d4d"}, fixedrange:true, automargin:false};
  layout["xaxis"+n] = Object.assign({}, common, {
    domain:[b[0]/W, b[2]/W], anchor:ya, range:[fitAges[0], fitAges[1]],
    tickmode:"array", tickvals:xTicks, ticktext:xTicks.map(String),
    minor:{tickvals:[7.5,12.5,17.5], showgrid:true, gridcolor:"#ffffff", gridwidth:0.8, ticks:""},
    title:{text:xTitle, font:{family:FONT, size:19, color:"#000"}, standoff:3}
  });
  layout["yaxis"+n] = Object.assign({}, common, {
    domain:[1-b[3]/H, 1-b[1]/H], anchor:xa, range:p.yrange,
    tickmode:"array", tickvals:p.yt, ticktext:p.ytt,
    minor:{tickvals:p.ym, showgrid:true, gridcolor:"#ffffff", gridwidth:0.8, ticks:""},
    title:{text:yTitles[i], font:{family:FONT, size:18, color:"#000"}, standoff:4}
  });
  // panel title
  layout.annotations.push({text:panelTitles[i], xref:"paper", yref:"paper", x:b[0]/W, y:1-titleY[i]/H,
    xanchor:"left", yanchor:"middle", showarrow:false, font:{family:FONT, size:21.5, color:"#000"}});
  // legend (manual, ggplot-like)
  const [lx,ly] = legendPos[i];
  layout.shapes.push({type:"rect", xref:"paper", yref:"paper", x0:lx/W, x1:(lx+19)/W, y0:1-(ly+31)/H, y1:1-ly/H,
    fillcolor:"#f2f2f2", line:{width:0}, layer:"below"});
  [[femaleColor,7.5,groups[0]],[maleColor,23,groups[1]]].forEach(([c,dy,label])=>{
    const cx = lx+9.5, cy = ly+dy;
    layout.shapes.push({type:"circle", xref:"paper", yref:"paper", x0:(cx-2.2)/W, x1:(cx+2.2)/W,
      y0:1-(cy+2.2)/H, y1:1-(cy-2.2)/H, fillcolor:c, line:{width:0}});
    layout.annotations.push({text:label, xref:"paper", yref:"paper", x:(lx+24)/W, y:1-cy/H,
      xanchor:"left", yanchor:"middle", showarrow:false, font:{family:FONT, size:14.5, color:"#000"}});
  });
});

Plotly.newPlot("chart", traces, layout, {displayModeBar:false, staticPlot:true});
</script>
</body></html>
